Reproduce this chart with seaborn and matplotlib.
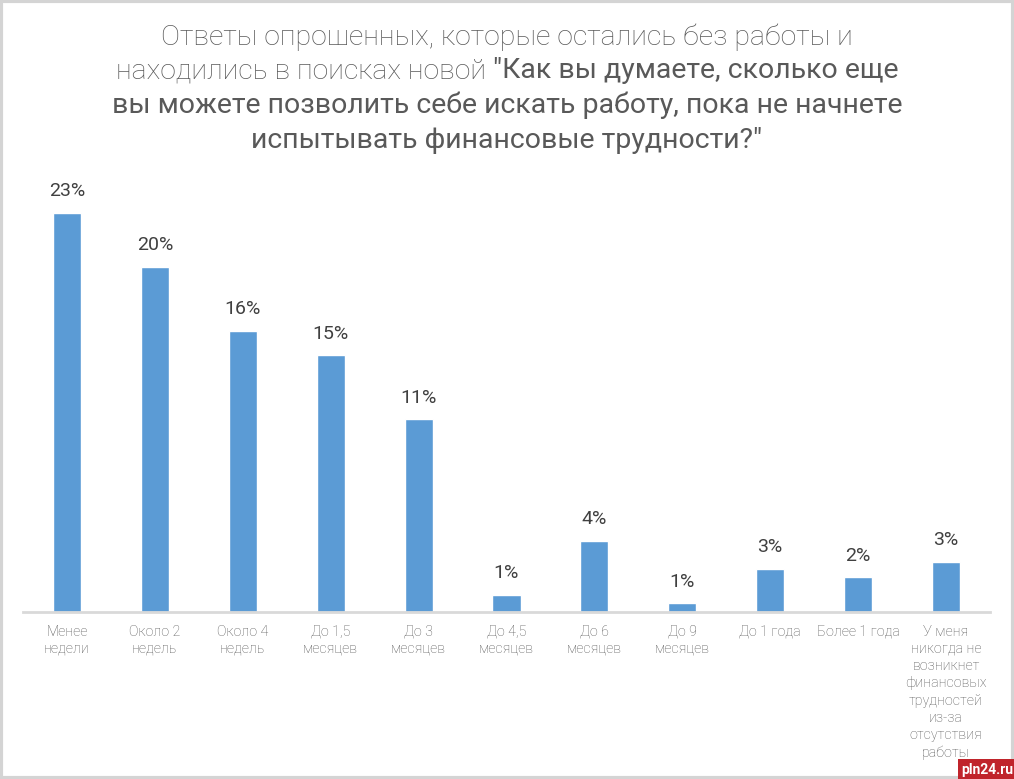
import pandas as pd
import matplotlib.pyplot as plt
import seaborn as sns
from matplotlib.patches import Rectangle

sns.set_theme(style="white")
plt.rcParams['font.family'] = ['Roboto', 'DejaVu Sans']

categories = [
    "Менее\nнедели", "Около 2\nнедель", "Около 4\nнедель", "До 1,5\nмесяцев",
    "До 3\nмесяцев", "До 4,5\nмесяцев", "До 6\nмесяцев", "До 9\nмесяцев",
    "До 1 года", "Более 1 года",
    "У меня\nникогда не\nвозникнет\nфинансовых\nтрудностей\nиз-за\nотсутствия\nработы",
]
values = [23.0, 19.9, 16.2, 14.8, 11.1, 1.0, 4.1, 0.5, 2.5, 2.0, 2.9]
value_labels = ["23%", "20%", "16%", "15%", "11%", "1%", "4%", "1%", "3%", "2%", "3%"]

title_light_1 = "Ответы опрошенных, которые остались без работы и"
title_light_2 = "находились в поисках новой "
title_bold_2 = "\"Как вы думаете, сколько еще"
title_bold_3 = "вы можете позволить себе искать работу, пока не начнете"
title_bold_4 = "испытывать финансовые трудности?\""

df = pd.DataFrame({"cat": categories, "val": values})

fig = plt.figure(figsize=(10.14, 7.79), dpi=100)
ax = fig.add_axes([23 / 1014, 1 - 612 / 779, 967 / 1014, 422 / 779])

sns.barplot(data=df, x="cat", y="val", color="#5b9bd5", width=0.32,
            saturation=1, ax=ax)

ax.set_ylim(0, 422 / 17.35)
ax.set_xlim(-0.5, len(categories) - 0.5)
ax.set_xlabel("")
ax.set_ylabel("")
ax.set_yticks([])
for s in ["top", "right", "left"]:
    ax.spines[s].set_visible(False)
ax.spines["bottom"].set_color("#d9d9d9")
ax.spines["bottom"].set_linewidth(2)
ax.tick_params(axis="x", length=0, pad=9, labelsize=10.3, labelcolor="#595959")
for t in ax.get_xticklabels():
    t.set_fontweight("light")
    t.set_linespacing(1.3)
    t.set_verticalalignment("top")

# value labels above bars
for i, (v, lab) in enumerate(zip(values, value_labels)):
    ax.annotate(lab, (i, v), xytext=(0, 9), textcoords="offset points",
                ha="center", va="bottom", fontsize=14, color="#404040")

# title: light part + regular part
tc = "#595959"
fs = 20.5
fig.text(0.5, 1 - 37 / 779, title_light_1, ha="center", va="center",
         fontsize=fs, color=tc, fontweight="light")
y2 = 1 - 71 / 779
t_a = fig.text(0, y2, title_light_2, ha="left", va="center",
               fontsize=fs, color=tc, fontweight="light")
t_b = fig.text(0, y2, title_bold_2, ha="left", va="center",
               fontsize=fs, color=tc, fontweight="normal")
r = fig.canvas.get_renderer()
wa = t_a.get_window_extent(r).width
wb = t_b.get_window_extent(r).width
W = fig.bbox.width
x0 = (W - wa - wb) / 2
t_a.set_x(x0 / W)
t_b.set_x((x0 + wa) / W)
fig.text(0.5, 1 - 105 / 779, title_bold_3, ha="center", va="center",
         fontsize=fs, color=tc, fontweight="normal")
fig.text(0.5, 1 - 140 / 779, title_bold_4, ha="center", va="center",
         fontsize=fs, color=tc, fontweight="normal")

# frame around the picture
fig.patches.append(Rectangle((0.001, 0.001), 0.998, 0.998, transform=fig.transFigure,
                             fill=False, edgecolor="#d4d4d4", linewidth=3))

# watermark
fig.text(0.999, 0.003, "pln24.ru", ha="right", va="bottom", fontsize=10,
         color="white", fontweight="bold",
         bbox=dict(boxstyle="square,pad=0.25", facecolor="#c0242b", edgecolor="none"))

fig.savefig("out.png", dpi=100)
